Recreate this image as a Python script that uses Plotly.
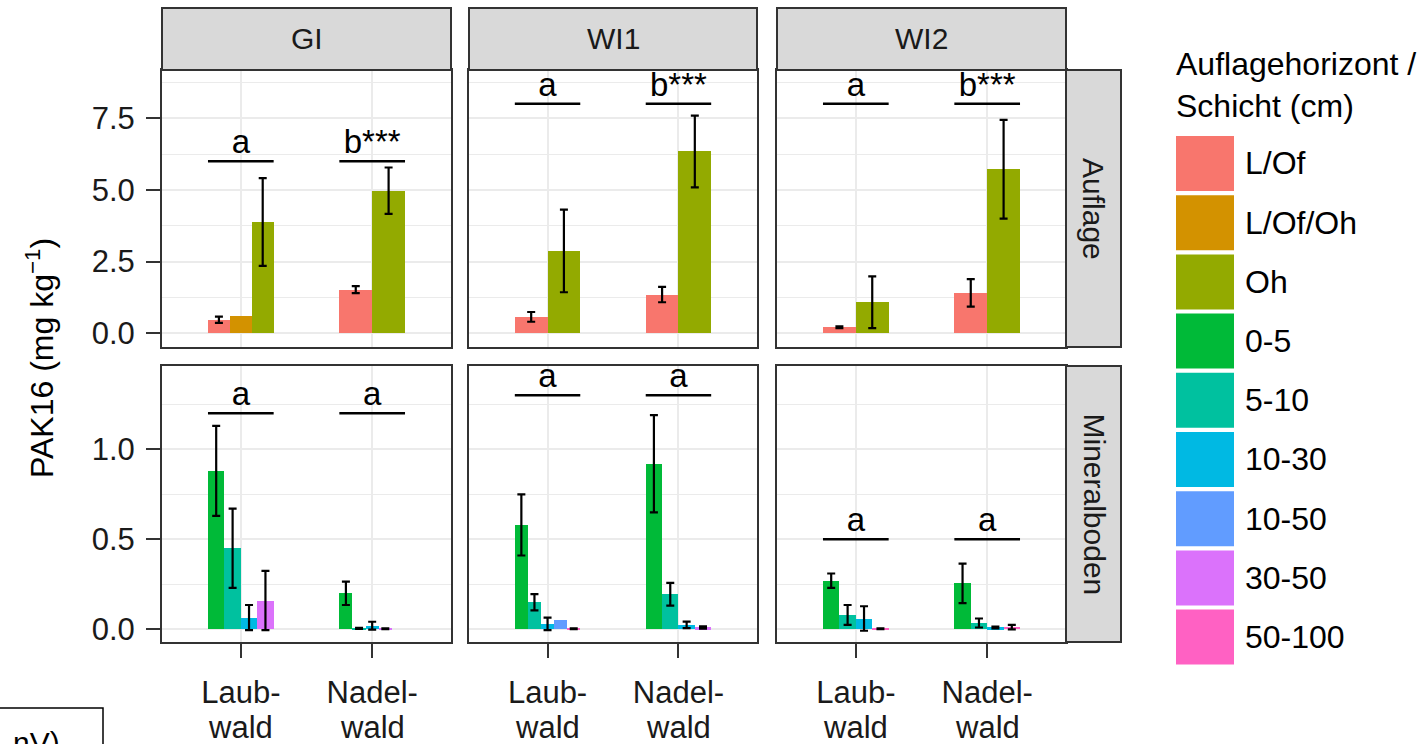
import plotly.graph_objects as go

# ---------------- data ----------------
sites = ["GI", "WI1", "WI2"]
layers = ["Auflage", "Mineralboden"]
forest_line1 = ["Laub-", "Nadel-"]
forest_line2 = ["wald", "wald"]
series = ["L/Of", "L/Of/Oh", "Oh", "0-5", "5-10", "10-30", "10-50", "30-50", "50-100"]
series_colors = ["#F8766D", "#D39200", "#93AA00", "#00BA38", "#00C19F",
                 "#00B9E3", "#619CFF", "#DB72FB", "#FF61C3"]

# long-format records: site, layer, forest index (0 Laub, 1 Nadel), series, mean, error (None = no bar)
rec_site = ["GI", "GI", "GI", "GI", "GI",
            "WI1", "WI1", "WI1", "WI1",
            "WI2", "WI2", "WI2", "WI2",
            "GI", "GI", "GI", "GI", "GI", "GI", "GI", "GI", "GI",
            "WI1", "WI1", "WI1", "WI1", "WI1", "WI1", "WI1", "WI1", "WI1",
            "WI2", "WI2", "WI2", "WI2", "WI2", "WI2", "WI2", "WI2"]
rec_layer = ["Auflage"] * 13 + ["Mineralboden"] * 26
rec_forest = [0, 0, 0, 1, 1,
              0, 0, 1, 1,
              0, 0, 1, 1,
              0, 0, 0, 0, 1, 1, 1, 1, 1,
              0, 0, 0, 0, 0, 1, 1, 1, 1,
              0, 0, 0, 0, 1, 1, 1, 1]
rec_series = ["L/Of", "L/Of/Oh", "Oh", "L/Of", "Oh",
              "L/Of", "Oh", "L/Of", "Oh",
              "L/Of", "Oh", "L/Of", "Oh",
              "0-5", "5-10", "10-30", "30-50", "0-5", "5-10", "10-30", "30-50", "50-100",
              "0-5", "5-10", "10-30", "10-50", "50-100", "0-5", "5-10", "10-30", "30-50",
              "0-5", "5-10", "10-30", "50-100", "0-5", "5-10", "10-30", "50-100"]
rec_value = [0.47, 0.60, 3.88, 1.52, 4.97,
             0.57, 2.87, 1.35, 6.34,
             0.21, 1.08, 1.41, 5.72,
             0.88, 0.45, 0.065, 0.16, 0.20, 0.005, 0.02, 0.003, 0.0,
             0.58, 0.15, 0.03, 0.05, 0.003, 0.92, 0.195, 0.025, 0.01,
             0.27, 0.08, 0.06, 0.003, 0.255, 0.035, 0.01, 0.012]
rec_err = [0.11, None, 1.53, 0.12, 0.81,
           0.17, 1.44, 0.27, 1.25,
           0.03, 0.90, 0.48, 1.72,
           0.25, 0.22, 0.07, 0.165, 0.065, 0.003, 0.022, 0.002, None,
           0.17, 0.045, 0.035, None, 0.002, 0.27, 0.063, 0.018, 0.006,
           0.04, 0.055, 0.068, 0.002, 0.11, 0.025, 0.005, 0.012]

# significance letters
sig_site = ["GI", "GI", "WI1", "WI1", "WI2", "WI2", "GI", "GI", "WI1", "WI1", "WI2", "WI2"]
sig_layer = ["Auflage"] * 6 + ["Mineralboden"] * 6
sig_forest = [0, 1, 0, 1, 0, 1, 0, 1, 0, 1, 0, 1]
sig_y = [6.0, 6.0, 8.0, 8.0, 8.0, 8.0, 1.2, 1.2, 1.3, 1.3, 0.5, 0.5]
sig_label = ["a", "b***", "a", "b***", "a", "b***", "a", "a", "a", "a", "a", "a"]

y_ranges = [[-0.48, 9.18], [-0.0706, 1.463]]
y_dticks = [2.5, 0.5]

# ---------------- layout geometry (pixels) ----------------
W, H = 1422, 744
col_px = [(162, 451), (469, 757), (777, 1066)]
row_px = [(70, 347), (366, 642)]
strip_top = 8
rstrip_x = (1066, 1121)
FONT = "Liberation Sans, Arial, sans-serif"
DODGE = 0.5
TICK_SIZE = 31
LEG_SIZE = 32


def px_x(p):
    return p / W


def px_y(p):
    return 1 - p / H


fig = go.Figure()
layout = {}
annotations = []
color_of = dict(zip(series, series_colors))

for r, layer in enumerate(layers):
    for c, site in enumerate(sites):
        n = r * 3 + c + 1
        xs = "" if n == 1 else str(n)
        xref, yref = "x" + xs, "y" + xs
        # bars with ggplot-like dodging
        bx, by, bw, bc, ex, ey, ee = [], [], [], [], [], [], []
        for f in range(2):
            idx = [i for i in range(len(rec_site))
                   if rec_site[i] == site and rec_layer[i] == layer and rec_forest[i] == f]
            idx.sort(key=lambda i: series.index(rec_series[i]))
            k = len(idx)
            for j, i in enumerate(idx):
                xpos = (f + 1) - DODGE / 2 + (j + 0.5) * DODGE / k
                bx.append(xpos)
                by.append(rec_value[i])
                bw.append(DODGE / k)
                bc.append(color_of[rec_series[i]])
                if rec_err[i] is not None:
                    ex.append(xpos)
                    ey.append(rec_value[i])
                    ee.append(rec_err[i])
        fig.add_trace(go.Bar(x=bx, y=by, width=bw, marker=dict(color=bc, line=dict(width=0)),
                             xaxis=xref, yaxis=yref, showlegend=False, hoverinfo="skip"))
        fig.add_trace(go.Scatter(x=ex, y=ey, mode="markers", marker=dict(size=1, opacity=0),
                                 error_y=dict(type="data", array=ee, color="black",
                                              thickness=2.2, width=4),
                                 xaxis=xref, yaxis=yref, showlegend=False, hoverinfo="skip"))
        # significance lines and letters
        lx, ly, tx, ty, tt = [], [], [], [], []
        for i in range(len(sig_site)):
            if sig_site[i] == site and sig_layer[i] == layer:
                f = sig_forest[i] + 1
                lx += [f - DODGE / 2, f + DODGE / 2, None]
                ly += [sig_y[i], sig_y[i], None]
                tx.append(f)
                ty.append(sig_y[i])
                tt.append(sig_label[i])
        fig.add_trace(go.Scatter(x=lx, y=ly, mode="lines", line=dict(color="black", width=2.5),
                                 xaxis=xref, yaxis=yref, showlegend=False, hoverinfo="skip"))
        fig.add_trace(go.Scatter(x=tx, y=ty, mode="text", text=tt, textposition="top center",
                                 textfont=dict(size=33, color="black", family=FONT),
                                 cliponaxis=True,
                                 xaxis=xref, yaxis=yref, showlegend=False, hoverinfo="skip"))

        x0, x1 = col_px[c]
        y0, y1 = row_px[r]
        layout["xaxis" + xs] = dict(
            domain=[px_x(x0), px_x(x1)], anchor=yref, range=[0.4, 2.6],
            tickmode="array", tickvals=[1, 2], ticktext=forest_line1,
            showticklabels=(r == 1), ticks="outside" if r == 1 else "",
            ticklen=14, tickwidth=2.2, tickcolor="#333333", ticklabelstandoff=8,
            tickfont=dict(size=TICK_SIZE, color="#1A1A1A", family=FONT),
            showgrid=True, gridcolor="#EBEBEB", gridwidth=2.2,
            showline=True, mirror=True, linecolor="#333333", linewidth=2,
            zeroline=False, fixedrange=True, automargin=False)
        layout["yaxis" + xs] = dict(
            domain=[px_y(y1), px_y(y0)], anchor=xref, range=y_ranges[r],
            tick0=0, dtick=y_dticks[r], tickformat=".1f",
            minor=dict(dtick=y_dticks[r] / 2, tick0=0, showgrid=True,
                       gridcolor="#EBEBEB", gridwidth=1.1),
            showticklabels=(c == 0), ticks="outside" if c == 0 else "",
            ticklen=14, tickwidth=2.2, tickcolor="#333333", ticklabelstandoff=5,
            tickfont=dict(size=TICK_SIZE, color="#1A1A1A", family=FONT),
            showgrid=True, gridcolor="#EBEBEB", gridwidth=2.2,
            showline=True, mirror=True, linecolor="#333333", linewidth=2,
            zeroline=False, fixedrange=True, automargin=False)
        # second line of the x tick labels (tighter line spacing than plotly's <br>)
        if r == 1:
            for f in range(2):
                annotations.append(dict(xref=xref, yref="paper", x=f + 1, y=px_y(727),
                                        xanchor="center", yanchor="middle",
                                        text=forest_line2[f], showarrow=False,
                                        font=dict(size=TICK_SIZE, color="#1A1A1A", family=FONT)))

shapes = []
# top strips
for c, site in enumerate(sites):
    x0, x1 = col_px[c]
    shapes.append(dict(type="rect", xref="paper", yref="paper",
                       x0=px_x(x0), x1=px_x(x1), y0=px_y(row_px[0][0]), y1=px_y(strip_top),
                       fillcolor="#D9D9D9", line=dict(color="#333333", width=2), layer="above"))
    annotations.append(dict(xref="paper", yref="paper", x=px_x((x0 + x1) / 2),
                            y=px_y((strip_top + row_px[0][0]) / 2), text=site, showarrow=False,
                            xanchor="center", yanchor="middle",
                            font=dict(size=30, color="#1A1A1A", family=FONT)))
# right strips
for r, layer in enumerate(layers):
    y0, y1 = row_px[r]
    shapes.append(dict(type="rect", xref="paper", yref="paper",
                       x0=px_x(rstrip_x[0]), x1=px_x(rstrip_x[1]), y0=px_y(y1), y1=px_y(y0),
                       fillcolor="#D9D9D9", line=dict(color="#333333", width=2), layer="above"))
    annotations.append(dict(xref="paper", yref="paper", x=px_x(sum(rstrip_x) / 2),
                            y=px_y((y0 + y1) / 2), text=layer, textangle=90, showarrow=False,
                            xanchor="center", yanchor="middle",
                            font=dict(size=30, color="#1A1A1A", family=FONT)))

# y axis title
annotations.append(dict(xref="paper", yref="paper", x=px_x(40), y=px_y(358),
                        xanchor="center", yanchor="middle",
                        text="PAK16 (mg kg<sup>−1</sup>)", textangle=-90, showarrow=False,
                        font=dict(size=32, color="black", family=FONT)))

# legend (drawn manually to reproduce ggplot key size)
leg_x0, leg_key_w, leg_key_h, leg_top, leg_pitch = 1176, 58, 55, 136, 59.2
annotations.append(dict(xref="paper", yref="paper", x=px_x(leg_x0 - 2), y=px_y(44),
                        xanchor="left", yanchor="top", align="left",
                        text="Auflagehorizont /<br>Schicht (cm)", showarrow=False,
                        font=dict(size=LEG_SIZE, color="black", family=FONT)))
for i, (s, col) in enumerate(zip(series, series_colors)):
    t = leg_top + i * leg_pitch
    shapes.append(dict(type="rect", xref="paper", yref="paper",
                       x0=px_x(leg_x0), x1=px_x(leg_x0 + leg_key_w),
                       y0=px_y(t + leg_key_h), y1=px_y(t),
                       fillcolor=col, line=dict(width=0)))
    annotations.append(dict(xref="paper", yref="paper", x=px_x(leg_x0 + leg_key_w + 9),
                            y=px_y(t + leg_key_h / 2), xanchor="left", yanchor="middle",
                            text=s, showarrow=False,
                            font=dict(size=LEG_SIZE, color="black", family=FONT)))

# cropped caption box at bottom left
shapes.append(dict(type="rect", xref="paper", yref="paper", x0=px_x(-5), x1=px_x(103),
                   y0=px_y(760), y1=px_y(708), line=dict(color="black", width=1.5)))
annotations.append(dict(xref="paper", yref="paper", x=px_x(62), y=px_y(724),
                        xanchor="right", yanchor="top", text="nV)", showarrow=False,
                        font=dict(size=30, color="black", family=FONT)))

fig.update_layout(
    width=W, height=H, margin=dict(l=0, r=0, t=0, b=0, autoexpand=False),
    paper_bgcolor="white", plot_bgcolor="white",
    barmode="overlay", bargap=0, showlegend=False,
    shapes=shapes, annotations=annotations,
    font=dict(family=FONT, color="black"),
    **layout)

fig.write_html("out.html")
